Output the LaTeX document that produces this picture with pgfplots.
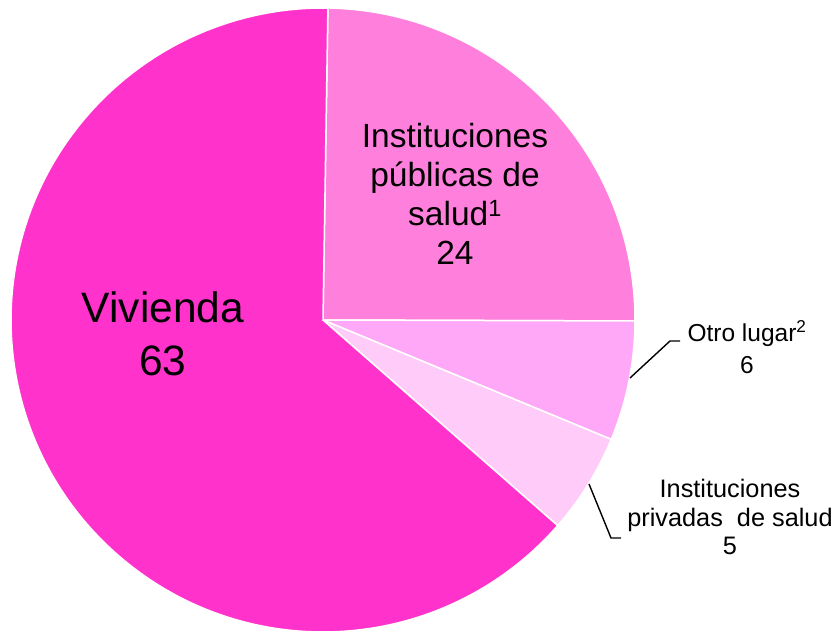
\documentclass[border=0pt]{standalone}
\usepackage{pgfplots}
\pgfplotsset{compat=1.18}
\usepackage{pgfplotstable}
\usepackage{fontspec}
\setmainfont{Liberation Sans}

\definecolor{cviv}{HTML}{FF33CC}
\definecolor{cpub}{HTML}{FF7FDD}
\definecolor{cotro}{HTML}{FFA8F7}
\definecolor{cpriv}{HTML}{FFCCFA}

% shares in percent, clockwise from the top
\pgfplotstableread{
slice share
pub   24.8
otro  6.2
priv  5.2
viv   63.8
}\piedata

\pgfplotstablegetelem{0}{share}\of\piedata \let\sA\pgfplotsretval
\pgfplotstablegetelem{1}{share}\of\piedata \let\sB\pgfplotsretval
\pgfplotstablegetelem{2}{share}\of\piedata \let\sC\pgfplotsretval
\pgfplotstablegetelem{3}{share}\of\piedata \let\sD\pgfplotsretval
\pgfmathsetmacro{\aA}{89.1}
\pgfmathsetmacro{\aB}{\aA-3.6*\sA}
\pgfmathsetmacro{\aC}{\aB-3.6*\sB}
\pgfmathsetmacro{\aD}{\aC-3.6*\sC}
\pgfmathsetmacro{\aE}{\aD-3.6*\sD}

\begin{document}
\begin{tikzpicture}
\begin{axis}[
  width=833pt, height=631pt, scale only axis,
  hide axis,
  xmin=0, xmax=833, ymin=0, ymax=631,
]
\path (axis cs:0,0) rectangle (axis cs:833,631);
\tikzset{slice/.style={draw=white, line width=1.5pt}}
\fill[cpub, slice] (axis cs:323,311) -- ++(\aA:312pt) arc[start angle=\aA, end angle=\aB, radius=312pt] -- cycle;
\fill[cotro, slice] (axis cs:323,311) -- ++(\aB:312pt) arc[start angle=\aB, end angle=\aC, radius=312pt] -- cycle;
\fill[cpriv, slice] (axis cs:323,311) -- ++(\aC:312pt) arc[start angle=\aC, end angle=\aD, radius=312pt] -- cycle;
\fill[cviv, slice] (axis cs:323,311) -- ++(\aD:312pt) arc[start angle=\aD, end angle=\aE, radius=312pt] -- cycle;

% leader lines
\draw[line width=1.4pt] (axis cs:630,253) -- (axis cs:670,290) -- (axis cs:680,290);
\draw[line width=1.4pt] (axis cs:589,147) -- (axis cs:611,93) -- (axis cs:621,93);

% labels
\node[align=center, font=\fontsize{42.5}{53}\selectfont] at (axis cs:163,297) {Vivienda\\63};
\node[align=center, font=\fontsize{33.5}{39}\selectfont] at (axis cs:455,437) {Instituciones\\públicas de\\salud\textsuperscript{1}\\24};
\node[align=center, font=\fontsize{24.5}{31.5}\selectfont] at (axis cs:747,284) {Otro lugar\textsuperscript{2}\\6};
\node[align=center, font=\fontsize{25.3}{28.5}\selectfont] at (axis cs:730,114) {Instituciones\\privadas\ \ de salud\\5};
\end{axis}
\end{tikzpicture}
\end{document}
